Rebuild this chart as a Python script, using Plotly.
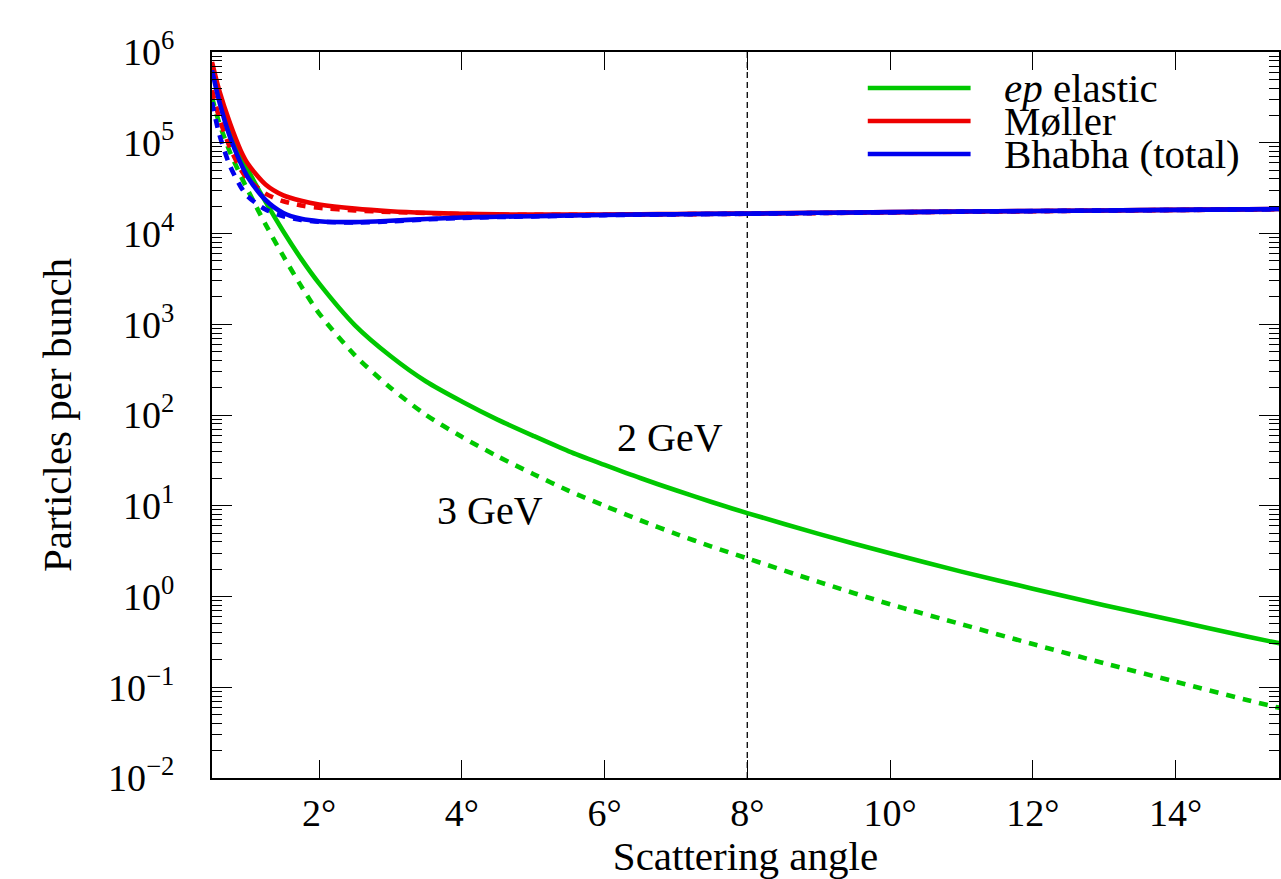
import math
import plotly.graph_objects as go

# ---------------- data ----------------
angle_deg = [0.5, 0.6, 0.75, 0.9, 1.0, 1.25, 1.5, 1.75, 2.0, 2.5, 3.0, 3.5, 4.0, 4.5,
             5.0, 5.5, 6.0, 6.5, 7.0, 7.5, 8.0, 9.0, 10.0, 11.0, 12.0, 13.0, 14.0, 15.0, 15.5]

# particles per bunch, 2 GeV (solid) and 3 GeV (dashed) beams
ep_2gev = [7.1e5, 3.5e5, 1.5e5, 7.6e4, 5.1e4, 2.24e4, 1.05e4, 5.25e3, 2.82e3, 980, 447, 234, 141, 89,
           59, 39.8, 28.2, 20.2, 14.8, 11.0, 8.3, 4.9, 2.99, 1.88, 1.22, 0.80, 0.54, 0.363, 0.30]
ep_3gev = [3.16e5, 1.66e5, 7.94e4, 4.37e4, 3.02e4, 1.26e4, 5.62e3, 2.63e3, 1.32e3, 457, 200, 100, 57.5, 35.1,
           22.4, 14.6, 10.0, 6.92, 4.90, 3.55, 2.63, 1.45, 0.822, 0.495, 0.299, 0.184, 0.115, 0.0724, 0.0582]

moller_2gev = [7.76e5, 3.8e5, 1.66e5, 8.3e4, 5.9e4, 3.47e4, 2.63e4, 2.29e4, 2.09e4, 1.88e4, 1.76e4, 1.69e4, 1.65e4, 1.625e4,
               1.615e4, 1.615e4, 1.62e4, 1.63e4, 1.64e4, 1.65e4, 1.66e4, 1.69e4, 1.72e4, 1.745e4, 1.77e4, 1.795e4, 1.82e4, 1.845e4, 1.86e4]
moller_3gev = [3.8e5, 1.9e5, 8.9e4, 5.13e4, 3.98e4, 2.75e4, 2.265e4, 2.04e4, 1.92e4, 1.80e4, 1.725e4, 1.68e4, 1.64e4, 1.615e4,
               1.603e4, 1.605e4, 1.61e4, 1.62e4, 1.63e4, 1.64e4, 1.65e4, 1.68e4, 1.71e4, 1.735e4, 1.76e4, 1.79e4, 1.815e4, 1.84e4, 1.855e4]

bhabha_2gev = [6.3e5, 2.9e5, 1.17e5, 6.0e4, 4.2e4, 2.34e4, 1.68e4, 1.45e4, 1.365e4, 1.335e4, 1.38e4, 1.445e4, 1.50e4, 1.53e4,
               1.55e4, 1.58e4, 1.60e4, 1.62e4, 1.63e4, 1.645e4, 1.655e4, 1.69e4, 1.72e4, 1.745e4, 1.77e4, 1.795e4, 1.82e4, 1.845e4, 1.86e4]
bhabha_3gev = [2.8e5, 1.26e5, 5.6e4, 3.3e4, 2.57e4, 1.84e4, 1.55e4, 1.41e4, 1.35e4, 1.32e4, 1.36e4, 1.43e4, 1.485e4, 1.52e4,
               1.545e4, 1.57e4, 1.595e4, 1.61e4, 1.625e4, 1.64e4, 1.65e4, 1.68e4, 1.71e4, 1.74e4, 1.765e4, 1.79e4, 1.815e4, 1.84e4, 1.855e4]

series_names = ["<i>ep</i> elastic", "Møller", "Bhabha (total)"]
series_colors = ["rgb(0,200,0)", "rgb(238,0,0)", "rgb(0,0,238)"]

x_tick_vals = [2, 4, 6, 8, 10, 12, 14]
x_tick_text = ["2°", "4°", "6°", "8°", "10°", "12°", "14°"]
y_tick_vals = [1e-2, 1e-1, 1e0, 1e1, 1e2, 1e3, 1e4, 1e5, 1e6]
y_tick_text = ["10<sup>−2</sup>", "10<sup>−1</sup>", "10<sup>0</sup>", "10<sup>1</sup>", "10<sup>2</sup>",
               "10<sup>3</sup>", "10<sup>4</sup>", "10<sup>5</sup>", "10<sup>6</sup>"]
marker_angle = 8  # vertical dashed line

energy_labels = ["2 GeV", "3 GeV"]
energy_label_x = [6.92, 4.39]
energy_label_y = [57, 8.9]

# ---------------- figure ----------------
FONT = "Liberation Serif"
W, H = 1281, 879
L, R, T, B = 212, 0, 52, 101

fig = go.Figure()

pairs = [(ep_2gev, ep_3gev), (moller_2gev, moller_3gev), (bhabha_2gev, bhabha_3gev)]
for (s2, s3), name, col in zip(pairs, series_names, series_colors):
    fig.add_trace(go.Scatter(x=angle_deg, y=s2, mode="lines", name=name + " 2 GeV",
                             line=dict(color=col, width=4.6, shape="spline", smoothing=0.8),
                             showlegend=False))
    fig.add_trace(go.Scatter(x=angle_deg, y=s3, mode="lines", name=name + " 3 GeV",
                             line=dict(color=col, width=4.6, dash="9px,8px", shape="spline", smoothing=0.8),
                             showlegend=False))

fig.add_vline(x=marker_angle, line=dict(color="black", width=1.3, dash="6px,4px"), layer="below")

for txt, xv, yv in zip(energy_labels, energy_label_x, energy_label_y):
    fig.add_annotation(x=xv, y=math.log10(yv), text=txt, showarrow=False,
                       font=dict(family=FONT, size=40, color="black"),
                       xanchor="center", yanchor="middle")

# legend drawn in the tight layout of the reference
pw, ph = W - L - R, H - T - B
def px2paper_x(px):
    return (px - L) / pw
def px2paper_y(py):
    return (H - B - py) / ph

legend_rows_px = [88, 121, 154]
for name, col, ypx in zip(series_names, series_colors, legend_rows_px):
    yp = px2paper_y(ypx)
    fig.add_shape(type="line", xref="paper", yref="paper",
                  x0=px2paper_x(869), x1=px2paper_x(972), y0=yp, y1=yp,
                  line=dict(color=col, width=4.6))
    fig.add_annotation(xref="paper", yref="paper", x=px2paper_x(1003), y=yp,
                       text=name, showarrow=False, xanchor="left", yanchor="middle",
                       font=dict(family=FONT, size=41, color="black"))

minor_y = [m * 10.0 ** e for e in range(-2, 6) for m in range(2, 10)]

axis_common = dict(showline=True, linecolor="black", linewidth=2, mirror="ticks",
                   ticks="inside", tickcolor="black", showgrid=False, zeroline=False,
                   tickfont=dict(family=FONT, size=38, color="black"))

fig.update_xaxes(range=[0.5, 15.45], tickmode="array", tickvals=x_tick_vals, ticktext=x_tick_text,
                 ticklen=18, tickwidth=1.3, ticklabelstandoff=0,
                 title=dict(text="Scattering angle", font=dict(family=FONT, size=41, color="black"), standoff=6),
                 **axis_common)
fig.update_yaxes(type="log", range=[-2, 6], tickmode="array", tickvals=y_tick_vals, ticktext=y_tick_text,
                 ticklen=20, tickwidth=1.3, ticklabelstandoff=28,
                 minor=dict(tickmode="array", tickvals=minor_y, ticks="inside", ticklen=10,
                            tickcolor="black", tickwidth=1.3, showgrid=False),
                 title=dict(text="Particles per bunch", font=dict(family=FONT, size=41, color="black"), standoff=24),
                 **axis_common)

fig.update_layout(width=W, height=H, margin=dict(l=L, r=R, t=T, b=B),
                  paper_bgcolor="white", plot_bgcolor="white",
                  font=dict(family=FONT, color="black"), showlegend=False)

fig.write_html("out.html", config={"displayModeBar": False},
               post_script="document.body.style.margin='0';document.body.style.overflow='hidden';")
